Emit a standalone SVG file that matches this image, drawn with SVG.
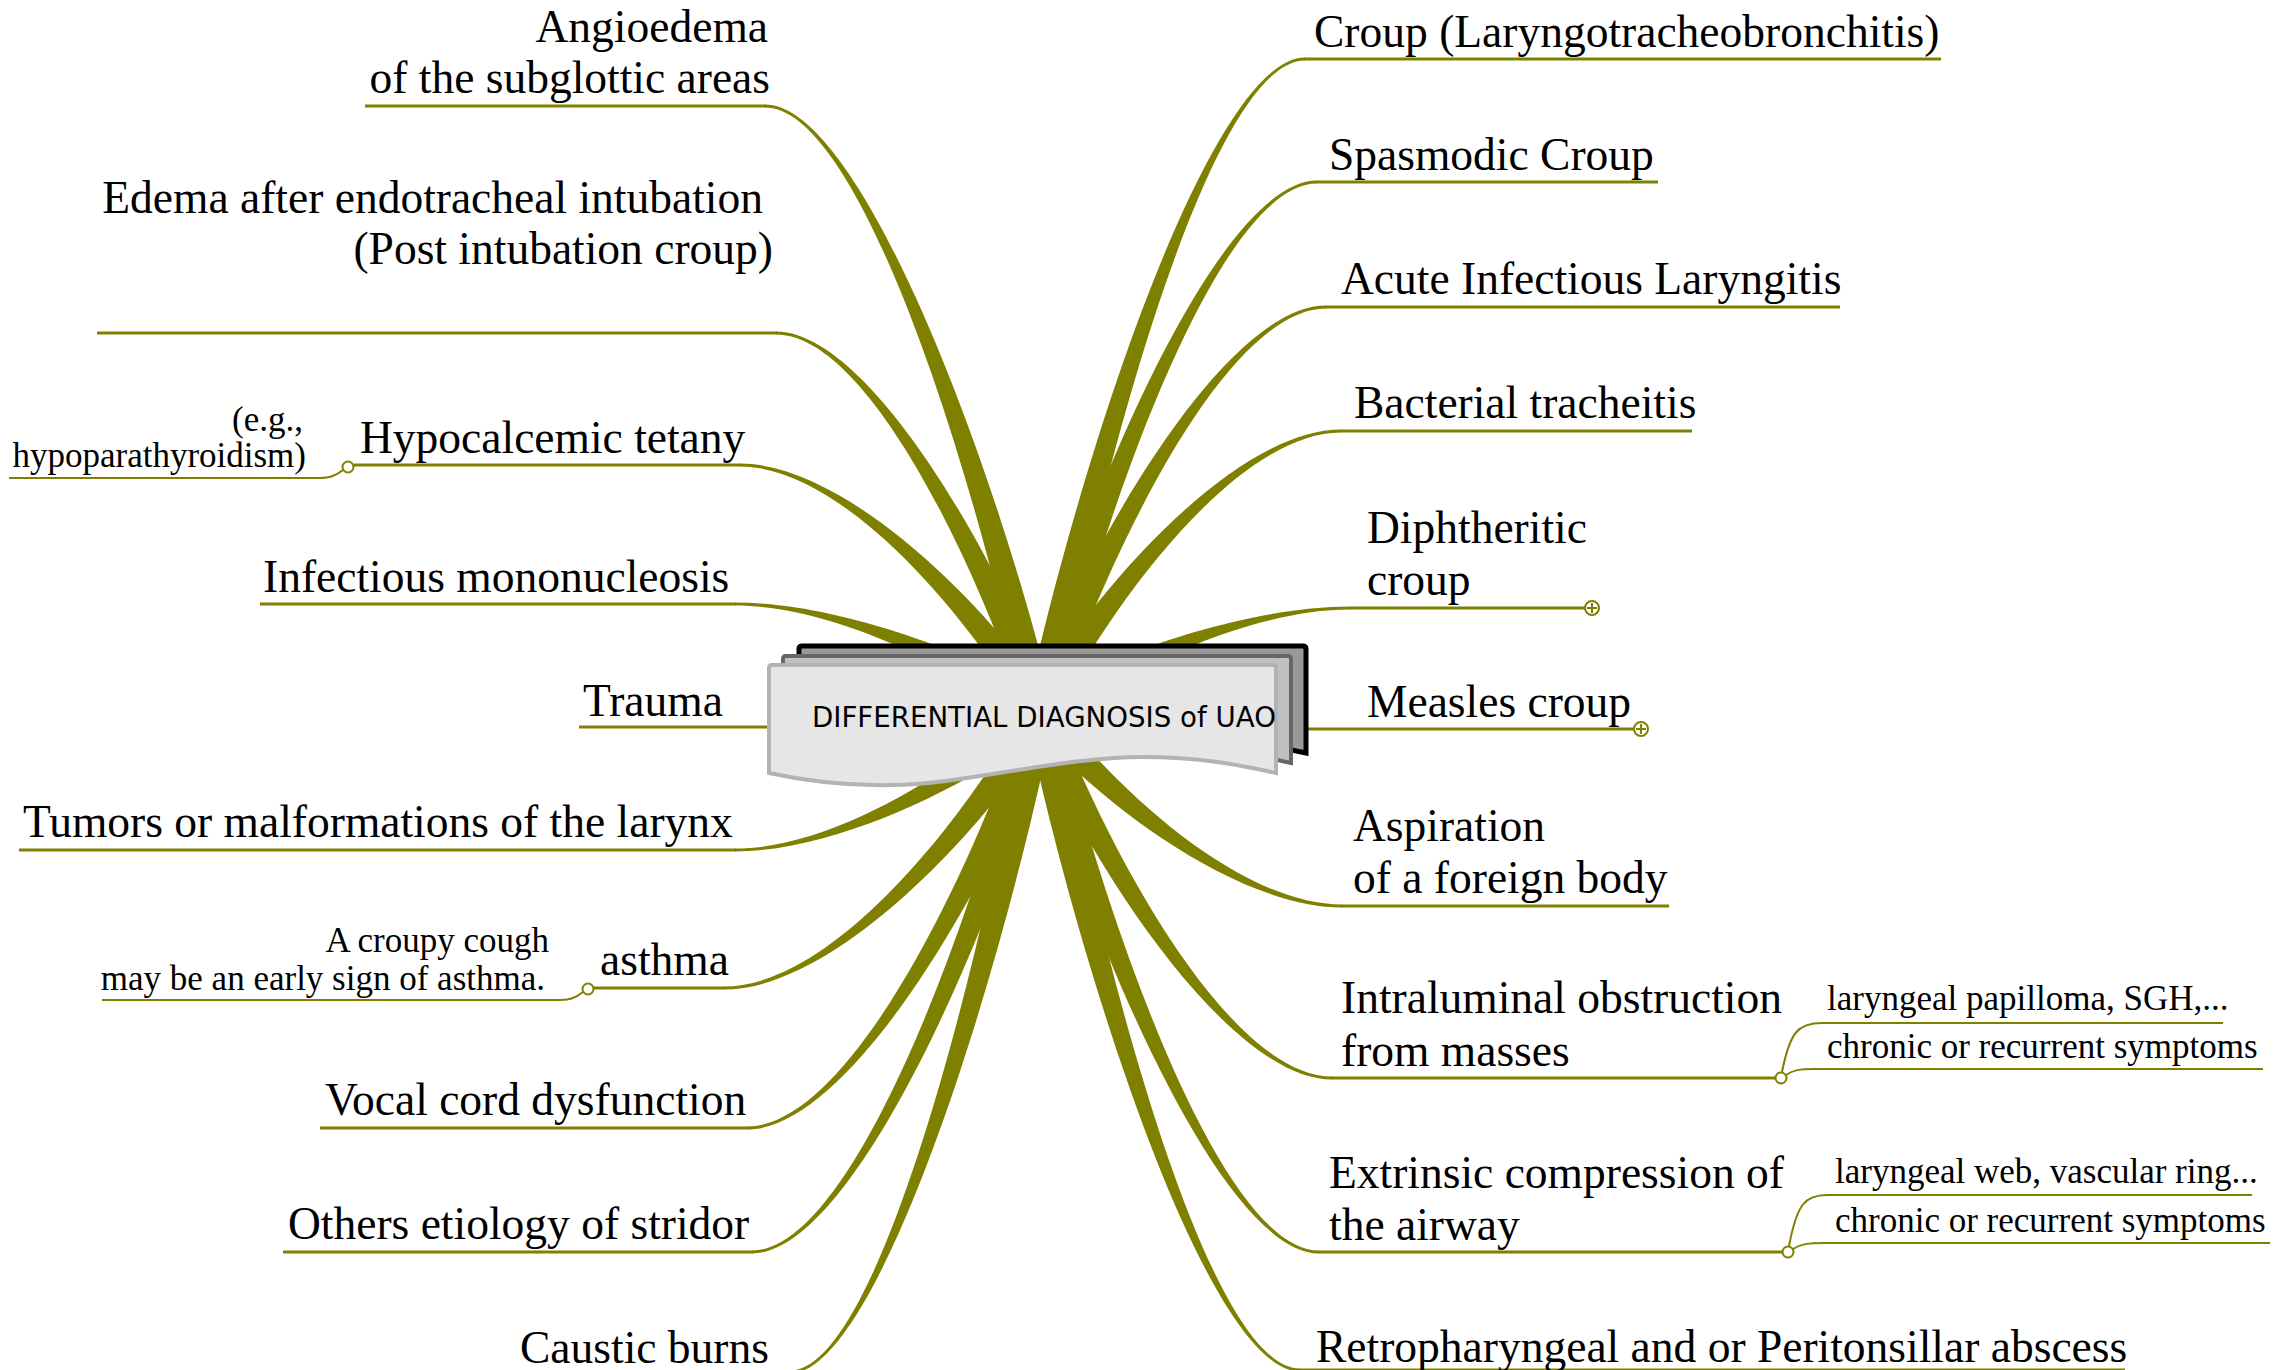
<svg xmlns="http://www.w3.org/2000/svg" width="2295" height="1370" viewBox="0 0 2295 1370">
<defs>
<style>
.br{fill:#808000;stroke:none}
.ln{fill:none;stroke:#808000;stroke-width:3}
.sl{fill:none;stroke:#808000;stroke-width:2}
.oc{fill:#fff;stroke:#808000;stroke-width:2}
.t{font-family:"Liberation Serif","Times New Roman",serif;font-size:45.5px;fill:#000}
.s{font-family:"Liberation Serif","Times New Roman",serif;font-size:35px;fill:#000}
.e{text-anchor:end}
</style>
</defs>
<rect width="2295" height="1370" fill="#fff"/>
<g id="connectors">
<path class="br" d="M 1053.9,717.6 C 1103.4,455 1212.3,60.5 1305,60.5 L 1305,57.5 C 1212.3,57.5 1082.6,446.6 1026.1,706.4 Z"/>
<path class="br" d="M 1053.3,718.9 C 1105.4,505.2 1220,183.5 1317,183.5 L 1317,180.5 C 1220,180.5 1085.4,494.8 1026.7,705.1 Z"/>
<path class="br" d="M 1052.3,720.7 C 1106.4,556.5 1225.9,308.5 1326,308.5 L 1326,305.5 C 1225.9,305.5 1088,543.5 1027.7,703.3 Z"/>
<path class="br" d="M 1050.2,723 C 1107.9,607.8 1235.6,432.5 1341,432.5 L 1341,429.5 C 1235.6,429.5 1092.5,591.4 1029.8,701 Z"/>
<path class="br" d="M 1044.8,726.2 C 1105.6,681.1 1241.5,609.5 1350,609.5 L 1350,606.5 C 1241.5,606.5 1098.4,659.7 1035.2,697.8 Z"/>
<path class="br" d="M 1031.9,724.6 C 1094.3,799.1 1236.3,907.5 1342,907.5 L 1342,904.5 C 1236.3,904.5 1106.5,780.1 1048.1,699.4 Z"/>
<path class="br" d="M 1028.3,721.4 C 1089.6,865.4 1229.8,1079.5 1332,1079.5 L 1332,1076.5 C 1229.8,1076.5 1107.2,851.4 1051.7,702.6 Z"/>
<path class="br" d="M 1026.7,718.9 C 1085.8,933.2 1221.3,1253.5 1319,1253.5 L 1319,1250.5 C 1221.3,1250.5 1105.8,922.8 1053.3,705.1 Z"/>
<path class="br" d="M 1026,717.5 C 1081.5,979.3 1209,1371.5 1300,1371.5 L 1300,1368.5 C 1209,1368.5 1102.5,971.1 1054,706.5 Z"/>
<path class="br" d="M 1053.7,705.8 C 995.2,465 861.3,104.5 765,104.5 L 765,107.5 C 861.3,107.5 974.8,474.2 1026.3,718.2 Z"/>
<path class="br" d="M 1052.3,703.4 C 996.4,554 868.4,331.5 776,331.5 L 776,334.5 C 868.4,334.5 978,566.8 1027.7,720.6 Z"/>
<path class="br" d="M 1049.5,700.4 C 987.2,604.5 845,463.5 740,463.5 L 740,466.5 C 845,466.5 972.8,621.9 1030.5,723.6 Z"/>
<path class="br" d="M 1045,697.9 C 982.8,658.2 841.8,602.5 735,602.5 L 735,605.5 C 841.8,605.5 975.2,679.4 1035,726.1 Z"/>
<path class="br" d="M 1033.8,698.3 C 974.4,757 841.8,848.5 735,848.5 L 735,851.5 C 841.8,851.5 983.6,777.4 1046.2,725.7 Z"/>
<path class="br" d="M 1030.1,700.7 C 969.4,813.9 834.6,986.5 724,986.5 L 724,989.5 C 834.6,989.5 984.2,830.9 1049.9,723.3 Z"/>
<path class="br" d="M 1027.7,703.4 C 972.2,871.9 849.6,1126.5 747,1126.5 L 747,1129.5 C 849.6,1129.5 990.6,884.9 1052.3,720.6 Z"/>
<path class="br" d="M 1026.8,704.9 C 972.5,922.7 852.8,1250.5 752,1250.5 L 752,1253.5 C 852.8,1253.5 992.3,933.3 1053.2,719.1 Z"/>
<path class="br" d="M 1026,706.7 C 979.5,972 877.5,1370.5 790,1370.5 L 790,1373.5 C 877.5,1373.5 1000.5,980 1054,717.3 Z"/>
<path class="ln" d="M 1304,59 H 1941"/>
<path class="ln" d="M 1316,182 H 1658"/>
<path class="ln" d="M 1325,307 H 1840"/>
<path class="ln" d="M 1340,431 H 1692"/>
<path class="ln" d="M 1349,608 H 1585"/>
<path class="ln" d="M 1290,729 H 1634"/>
<path class="ln" d="M 1341,906 H 1669"/>
<path class="ln" d="M 1331,1078 H 1776"/>
<path class="ln" d="M 1318,1252 H 1782"/>
<path class="ln" d="M 1299,1370 H 2125"/>
<path class="ln" d="M 365,106 H 766"/>
<path class="ln" d="M 97,333 H 777"/>
<path class="ln" d="M 354,465 H 741"/>
<path class="ln" d="M 260,604 H 736"/>
<path class="ln" d="M 579,727 H 790"/>
<path class="ln" d="M 19,850 H 736"/>
<path class="ln" d="M 594,988 H 725"/>
<path class="ln" d="M 320,1128 H 748"/>
<path class="ln" d="M 283,1252 H 753"/>
<path class="ln" d="M 520,1372 H 791"/>
<path class="sl" d="M 343,470 C 335,476 330,478 319,478 L 9,478"/>
<path class="sl" d="M 583,992 C 575,998 570,1000 561,1000 L 102,1000"/>
<path class="sl" d="M 1782,1072 C 1790,1032 1798,1023 1822,1023 L 2223,1023"/>
<path class="sl" d="M 1786,1075 C 1793,1070 1800,1069 1814,1069 L 2263,1069"/>
<path class="sl" d="M 1789,1246 C 1797,1204 1805,1195 1827,1195 L 2252,1195"/>
<path class="sl" d="M 1793,1249 C 1800,1244 1808,1243 1825,1243 L 2270,1243"/>
<circle class="oc" cx="348" cy="467" r="5.5"/>
<circle class="oc" cx="588" cy="989" r="5.5"/>
<circle class="oc" cx="1781" cy="1078" r="5.5"/>
<circle class="oc" cx="1788" cy="1252" r="5.5"/>
<g id="collapse1"><circle class="oc" cx="1592" cy="608" r="7"/><path class="sl" d="M 1587,608 H 1597 M 1592,603 V 613"/></g>
<g id="collapse2"><circle class="oc" cx="1641" cy="729" r="7"/><path class="sl" d="M 1636,729 H 1646 M 1641,724 V 734"/></g>
</g>
<g id="center">
<path d="M 799,649 Q 799,646 802,646 L 1303,646 Q 1306,646 1306,649 L 1306,753 C 1270,745 1230,737 1172,737 C 1090,737 990,765 923,765 C 880,766 840,762 799,753 Z" fill="#999" stroke="#000" stroke-width="5"/>
<path d="M 783,659 Q 783,656 786,656 L 1288,656 Q 1291,656 1291,659 L 1291,763 C 1255,755 1215,747 1157,747 C 1075,747 975,775 908,775 C 865,776 825,772 783,763 Z" fill="#c0c0c0" stroke="#666" stroke-width="4"/>
<path d="M 769,668 Q 769,665 772,665 L 1273,665 Q 1276,665 1276,668 L 1276,773 C 1240,765 1200,757 1142,757 C 1060,757 960,785 893,785 C 850,786 810,782 769,773 Z" fill="#e6e6e6" stroke="#b3b3b3" stroke-width="4"/>
<text x="812" y="727" font-family="'DejaVu Sans','Liberation Sans',sans-serif" font-size="28" textLength="464" lengthAdjust="spacingAndGlyphs" fill="#000">DIFFERENTIAL DIAGNOSIS of UAO</text>
</g>
<g id="n-croup"><text class="t" x="1314" y="47">Croup (Laryngotracheobronchitis)</text></g>
<g id="n-spasmodic"><text class="t" x="1329" y="170">Spasmodic Croup</text></g>
<g id="n-acute"><text class="t" x="1341" y="294">Acute Infectious Laryngitis</text></g>
<g id="n-bacterial"><text class="t" x="1354" y="418">Bacterial tracheitis</text></g>
<g id="n-diphtheritic"><text class="t" x="1367" y="543">Diphtheritic</text><text class="t" x="1367" y="595">croup</text></g>
<g id="n-measles"><text class="t" x="1367" y="717">Measles croup</text></g>
<g id="n-aspiration"><text class="t" x="1353" y="841">Aspiration</text><text class="t" x="1353" y="893">of a foreign body</text></g>
<g id="n-intraluminal"><text class="t" x="1341" y="1013">Intraluminal obstruction</text><text class="t" x="1341" y="1066">from masses</text></g>
<g id="n-intraluminal-1"><text class="s" x="1827" y="1010">laryngeal papilloma, SGH,...</text></g>
<g id="n-intraluminal-2"><text class="s" x="1827" y="1058">chronic or recurrent symptoms</text></g>
<g id="n-extrinsic"><text class="t" x="1329" y="1188">Extrinsic compression of</text><text class="t" x="1329" y="1240">the airway</text></g>
<g id="n-extrinsic-1"><text class="s" x="1835" y="1183">laryngeal web, vascular ring...</text></g>
<g id="n-extrinsic-2"><text class="s" x="1835" y="1232">chronic or recurrent symptoms</text></g>
<g id="n-retro"><text class="t" x="1316" y="1362">Retropharyngeal and or Peritonsillar abscess</text></g>
<g id="n-angioedema"><text class="t e" x="768" y="42">Angioedema</text><text class="t e" x="770" y="93">of the subglottic areas</text></g>
<g id="n-edema"><text class="t e" x="763" y="213">Edema after endotracheal intubation</text><text class="t e" x="773" y="264">(Post intubation croup)</text></g>
<g id="n-hypocalcemic"><text class="t" x="360" y="453">Hypocalcemic tetany</text></g>
<g id="n-hypocalcemic-1"><text class="s e" x="303" y="431">(e.g.,</text><text class="s e" x="306" y="467">hypoparathyroidism)</text></g>
<g id="n-mono"><text class="t" x="263" y="592">Infectious mononucleosis</text></g>
<g id="n-trauma"><text class="t" x="583" y="716">Trauma</text></g>
<g id="n-tumors"><text class="t" x="23" y="837">Tumors or malformations of the larynx</text></g>
<g id="n-asthma"><text class="t" x="600" y="975">asthma</text></g>
<g id="n-asthma-1"><text class="s e" x="549" y="952">A croupy cough</text><text class="s e" x="545" y="990">may be an early sign of asthma.</text></g>
<g id="n-vocal"><text class="t" x="325" y="1115">Vocal cord dysfunction</text></g>
<g id="n-others"><text class="t" x="288" y="1239">Others etiology of stridor</text></g>
<g id="n-caustic"><text class="t" x="520" y="1363">Caustic burns</text></g>
</svg>
